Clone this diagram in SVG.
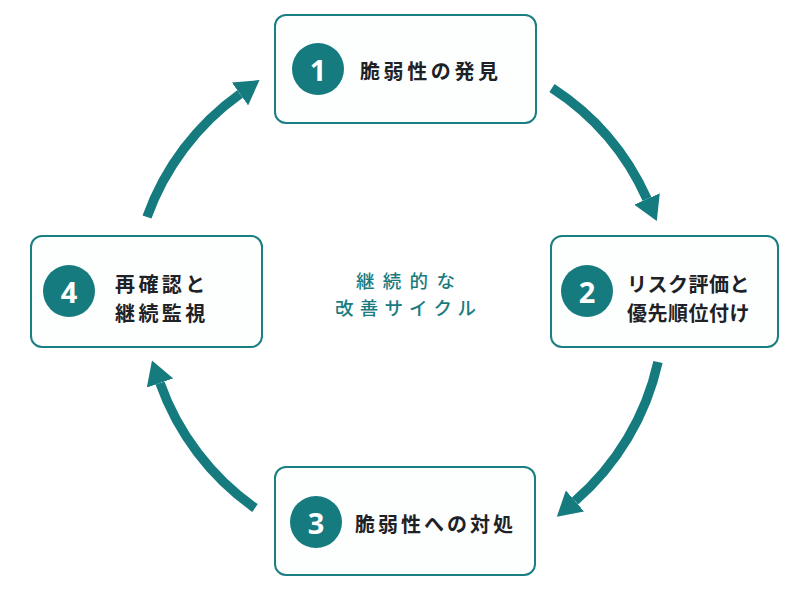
<svg xmlns="http://www.w3.org/2000/svg" width="793" height="597" viewBox="0 0 793 597">
  <style>
    .box { fill: #fdfefe; stroke: #1a7f82; stroke-width: 2; }
    .num-bg { fill: #157b7f; }
    .num { fill: #ffffff; font-family: "Noto Sans", "Liberation Sans", sans-serif; font-weight: 700; font-size: 29px; text-anchor: middle; dominant-baseline: central; }
    .lbl { fill: #1e2226; font-family: "Noto Sans CJK JP", "Noto Sans", sans-serif; font-weight: 700; font-size: 20px; dominant-baseline: central; }
    .center { fill: #1a7b7f; font-family: "Noto Sans CJK JP", "Noto Sans", sans-serif; font-weight: 500; font-size: 18.5px; dominant-baseline: central; }
    .arrow { fill: none; stroke: #157b7f; stroke-width: 9.5; marker-end: url(#head); }
  </style>
  <defs>
    <marker id="head" markerUnits="userSpaceOnUse" viewBox="0 0 24 28" refX="0" refY="14" markerWidth="24" markerHeight="28" orient="auto">
      <path d="M0,0 L24,14 L0,28 z" fill="#157b7f"/>
    </marker>
  </defs>
  <rect width="793" height="597" fill="#ffffff"/>

  <g id="connectors">
    <path class="arrow" d="M 552 88 A 258 258 0 0 1 647 199"/>
    <path class="arrow" d="M 658 362 A 258 258 0 0 1 575 501"/>
    <path class="arrow" d="M 255 508 A 258 258 0 0 1 160 383"/>
    <path class="arrow" d="M 147 217 A 258 258 0 0 1 240 94"/>
  </g>

  <g id="node1">
    <rect class="box" x="275" y="15" width="261" height="108" rx="11"/>
    <circle class="num-bg" cx="318" cy="69" r="26"/>
    <text class="num" x="318" y="69">1</text>
    <text class="lbl" x="360" y="70" letter-spacing="3.6">脆弱性の発見</text>
  </g>

  <g id="node2">
    <rect class="box" x="551" y="236" width="227" height="111" rx="11"/>
    <circle class="num-bg" cx="587" cy="291" r="26"/>
    <text class="num" x="587" y="291">2</text>
    <text class="lbl" x="627" y="283" letter-spacing="0.5">リスク評価と</text>
    <text class="lbl" x="627" y="312" letter-spacing="0.5">優先順位付け</text>
  </g>

  <g id="node3">
    <rect class="box" x="275" y="467" width="260" height="108" rx="11"/>
    <circle class="num-bg" cx="316" cy="522" r="26"/>
    <text class="num" x="316" y="522">3</text>
    <text class="lbl" x="355" y="523" letter-spacing="3">脆弱性への対処</text>
  </g>

  <g id="node4">
    <rect class="box" x="31" y="236" width="231" height="111" rx="11"/>
    <circle class="num-bg" cx="69" cy="291" r="26"/>
    <text class="num" x="69" y="291">4</text>
    <text class="lbl" x="115" y="283" letter-spacing="3.4">再確認と</text>
    <text class="lbl" x="115" y="312" letter-spacing="3.4">継続監視</text>
  </g>

  <g id="center-label">
    <text class="center" x="356" y="280" letter-spacing="8.3">継続的な</text>
    <text class="center" x="335" y="307" letter-spacing="6.2">改善サイクル</text>
  </g>
</svg>
